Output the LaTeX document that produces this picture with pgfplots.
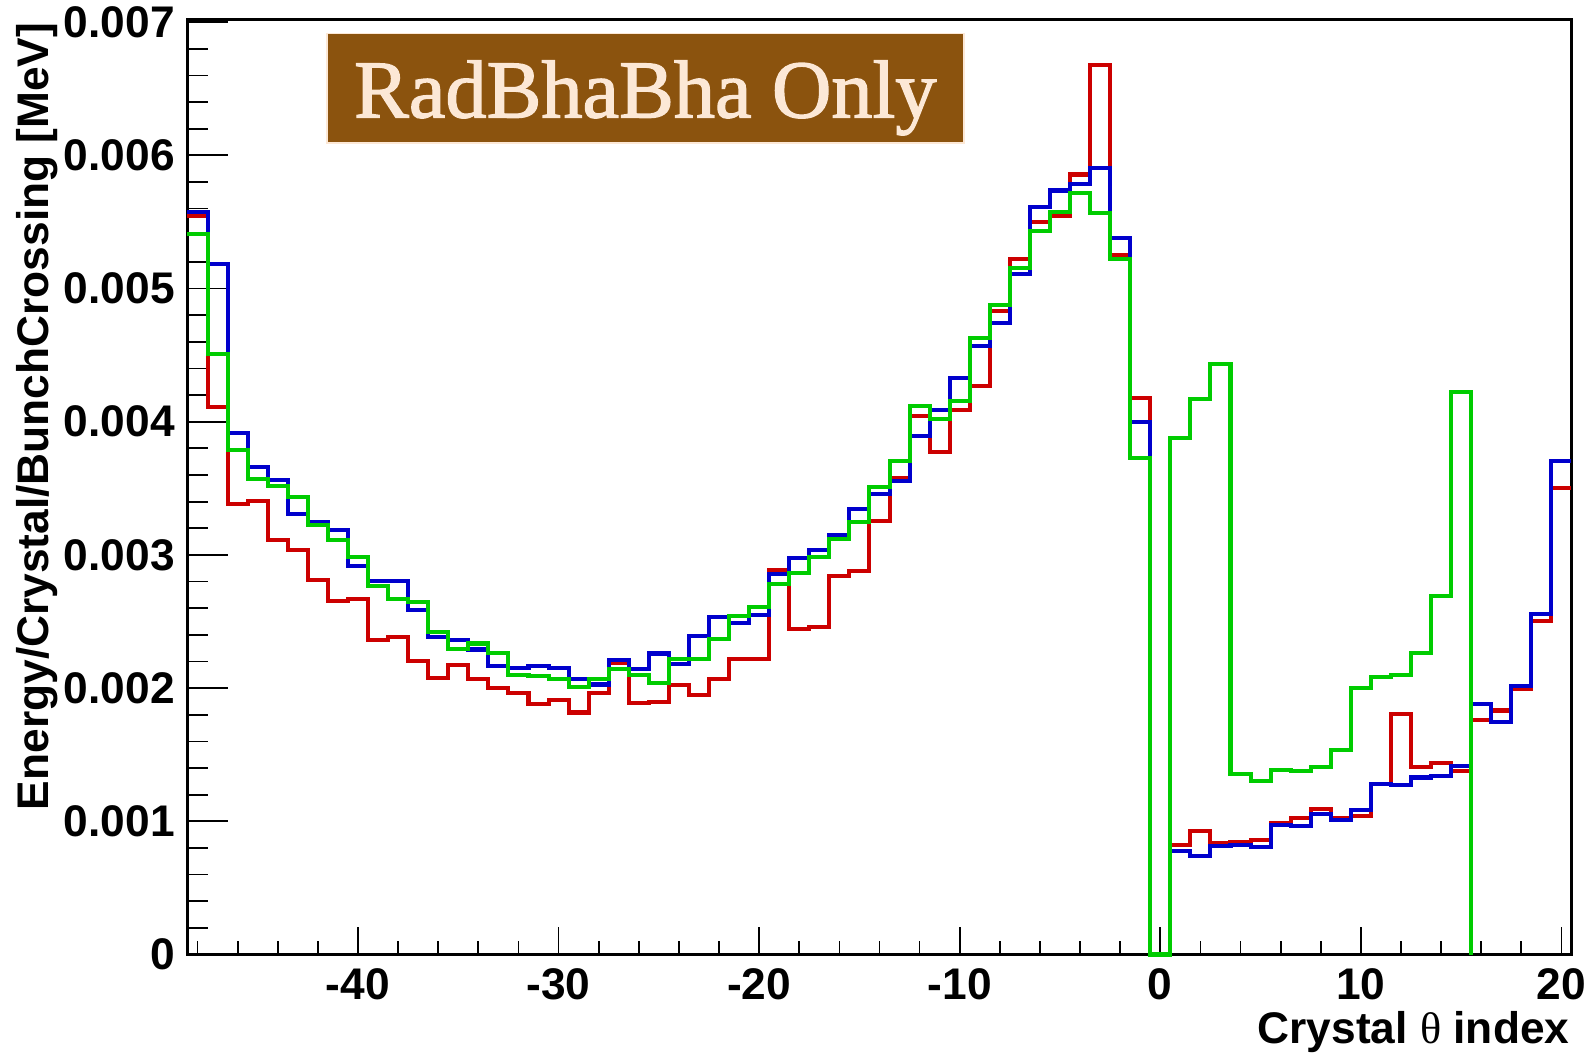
\documentclass[border=0pt]{standalone}
\usepackage{pgfplots}
\pgfplotsset{compat=1.18}
\usepackage{pgfplotstable}
\usepackage{fontspec}
\setmainfont{Liberation Sans}
\newfontfamily\titlefont{Liberation Serif}
\newfontfamily\titleboxfont{Liberation Serif}[FakeBold=1.6]
\definecolor{hred}{RGB}{204,0,0}
\definecolor{hblue}{RGB}{0,0,204}
\definecolor{hgreen}{RGB}{0,204,0}
\definecolor{boxbrown}{RGB}{139,83,14}
\definecolor{cream}{RGB}{252,232,214}

% lo = lower bin edge; last row = upper edge of the last bin (repeats bin 20)
\pgfplotstableread{
lo red blue green
-48.5 0.005541 0.005575 0.005407
-47.5 0.004114 0.005181 0.004508
-46.5 0.003383 0.003917 0.003788
-45.5 0.003404 0.003663 0.003573
-44.5 0.003114 0.003560 0.003516
-43.5 0.003034 0.003308 0.003435
-42.5 0.002813 0.003246 0.003228
-41.5 0.002653 0.003189 0.003111
-40.5 0.002666 0.002920 0.002987
-39.5 0.002360 0.002803 0.002769
-38.5 0.002381 0.002803 0.002666
-37.5 0.002207 0.002588 0.002648
-36.5 0.002075 0.002381 0.002420
-35.5 0.002170 0.002360 0.002296
-34.5 0.002072 0.002290 0.002335
-33.5 0.002002 0.002164 0.002264
-32.5 0.001964 0.002154 0.002102
-31.5 0.001879 0.002164 0.002090
-30.5 0.001909 0.002154 0.002065
-29.5 0.001817 0.002072 0.002005
-28.5 0.001960 0.002027 0.002065
-27.5 0.002185 0.002209 0.002140
-26.5 0.001889 0.002147 0.002102
-25.5 0.001899 0.002260 0.002035
-24.5 0.002020 0.002179 0.002217
-23.5 0.001947 0.002392 0.002217
-22.5 0.002067 0.002535 0.002367
-21.5 0.002222 0.002490 0.002540
-20.5 0.002215 0.002552 0.002610
-19.5 0.002885 0.002860 0.002785
-18.5 0.002447 0.002980 0.002865
-17.5 0.002460 0.003035 0.002985
-16.5 0.002842 0.003152 0.003122
-15.5 0.002880 0.003347 0.003247
-14.5 0.003252 0.003460 0.003510
-13.5 0.003580 0.003555 0.003705
-12.5 0.004040 0.003892 0.004115
-11.5 0.003772 0.004085 0.004023
-10.5 0.004085 0.004325 0.004155
-9.5 0.004270 0.004570 0.004625
-8.5 0.004830 0.004742 0.004876
-7.5 0.005223 0.005110 0.005155
-6.5 0.005498 0.005610 0.005430
-5.5 0.005548 0.005736 0.005573
-4.5 0.005856 0.005786 0.005718
-3.5 0.006681 0.005906 0.005568
-2.5 0.005248 0.005381 0.005223
-1.5 0.004178 0.003998 0.003727
-0.5 0 0 0
0.5 0.000824 0.000776 0.003881
1.5 0.000927 0.000741 0.004169
2.5 0.000839 0.000815 0.004436
3.5 0.000844 0.000821 0.001354
4.5 0.000859 0.000809 0.001304
5.5 0.000985 0.000975 0.001387
6.5 0.001022 0.000963 0.001378
7.5 0.001090 0.001052 0.001407
8.5 0.001022 0.001013 0.001535
9.5 0.001043 0.001088 0.002000
10.5 0.001278 0.001278 0.002085
11.5 0.001808 0.001270 0.002099
12.5 0.001408 0.001329 0.002264
13.5 0.001437 0.001338 0.002693
14.5 0.001375 0.001417 0.004225
15.5 0.001761 0.001880 0
16.5 0.001832 0.001747 0
17.5 0.001993 0.002015 0
18.5 0.002501 0.002560 0
19.5 0.003503 0.003703 0
20.5 0.003503 0.003703 0
}\hist

\newcommand{\labfont}{\fontsize{12.6}{15}\selectfont\bfseries}

\begin{document}
\begin{tikzpicture}
\path[use as bounding box] (-1.875,-0.995) rectangle (14.035,9.545);
\begin{axis}[
  at={(0,0)}, anchor=south west,
  scale only axis, width=13.84cm, height=9.35cm,
  xmin=-48.5, xmax=20.5, ymin=0, ymax=0.00702,
  axis line style={line width=0.6pt},
  xtick={-40,-30,-20,-10,0,10,20},
  xticklabels={-40,-30,-20,-10,0,10,20},
  minor xtick={-48,-46,...,20},
  ytick={0,0.001,0.002,0.003,0.004,0.005,0.006,0.007},
  yticklabels={0,0.001,0.002,0.003,0.004,0.005,0.006,0.007},
  minor ytick={0.0002,0.0004,0.0006,0.0008,0.0012,0.0014,0.0016,0.0018,0.0022,0.0024,0.0026,0.0028,0.0032,0.0034,0.0036,0.0038,0.0042,0.0044,0.0046,0.0048,0.0052,0.0054,0.0056,0.0058,0.0062,0.0064,0.0066,0.0068},
  scaled y ticks=false, scaled x ticks=false,
  tick align=inside, xtick pos=left, ytick pos=left,
  xtick style={black, line width=0.5pt, /pgfplots/major tick length=0.27cm, /pgfplots/minor tick length=0.14cm},
  ytick style={black, line width=0.5pt, /pgfplots/major tick length=0.40cm, /pgfplots/minor tick length=0.20cm},
  ticklabel style={font=\labfont, inner sep=0pt},
  xticklabel style={anchor=north, yshift=-0.135cm},
  yticklabel style={anchor=east, xshift=-0.12cm},
  clip=false,
]
\addplot[const plot mark left, hred, line width=1.15pt] table[x=lo, y=red]{\hist};
\addplot[const plot mark left, hblue, line width=1.15pt] table[x=lo, y=blue]{\hist};
\addplot[const plot mark left, hgreen, line width=1.15pt, restrict x to domain=-49:15.6] table[x=lo, y=green]{\hist};
\end{axis}
\fill[boxbrown] (1.392,8.115) rectangle (7.765,9.21);
\draw[cream, line width=0.5pt] (1.392,8.115) rectangle (7.765,9.21);
\node[anchor=base, text=cream, inner sep=0pt, font=\titleboxfont\fontsize{23.4}{27}\selectfont] at (4.578,8.37) {RadBhaBha Only};
\node[anchor=base east, inner sep=0pt, font=\labfont] at (13.825,-0.885) {Crystal {\titlefont\mdseries θ} index};
\node[rotate=90, anchor=base east, inner sep=0pt, font=\labfont] at (-1.388,9.325) {Energy/Crystal/BunchCrossing [MeV]};
\end{tikzpicture}
\end{document}
